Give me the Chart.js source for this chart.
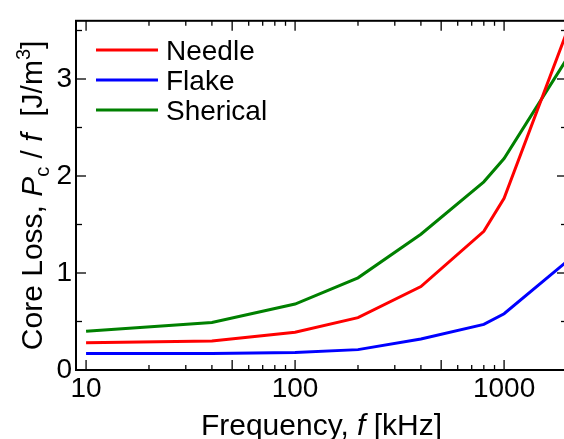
<!DOCTYPE html>
<html>
<head>
<meta charset="utf-8">
<script src="https://cdn.jsdelivr.net/npm/chart.js@4/dist/chart.umd.min.js"></script>
<style>
  html, body { margin: 0; padding: 0; overflow: hidden; background: #fff; }
  #wrap { width: 570px; height: 439px; }
  canvas { display: block; }
</style>
</head>
<body>
<div id="wrap"><canvas id="chart" width="570" height="439"></canvas></div>
<script>
// ── Data ──────────────────────────────────────────────────────────────────────
const FREQ = [10, 40, 100, 200, 400, 800, 1000, 2000]
const NEEDLE = [0.28, 0.30, 0.39, 0.54, 0.86, 1.43, 1.77, 3.49]
const FLAKE = [0.17, 0.17, 0.18, 0.21, 0.32, 0.47, 0.58, 1.12]
const SHERICAL = [0.40, 0.49, 0.68, 0.95, 1.40, 1.94, 2.18, 3.21]

const X_LABELS = [10, 100, 1000]
const X_LONG = [10, 50, 100, 500, 1000]
const X_MINOR = [10, 20, 30, 40, 50, 60, 70, 80, 90, 100, 200, 300, 400, 500, 600, 700, 800, 900, 1000, 2000]
const Y_LABELS = [0, 1, 2, 3]
const Y_MINOR = [0.5, 1.5, 2.5, 3.5]

const SERIES = [
  { label: 'Needle', data: NEEDLE, color: '#ff0000' },
  { label: 'Flake', data: FLAKE, color: '#0000ff' },
  { label: 'Sherical', data: SHERICAL, color: '#008000' }
]

const FONT = '"Liberation Sans", Arial, sans-serif'

// ── Plugins ───────────────────────────────────────────────────────────────────
const frameTicks = {
  id: 'frameTicks',
  afterDatasetsDraw(chart) {
    const { ctx, chartArea: a, scales: { x, y } } = chart
    const seg = (x1, y1, x2, y2) => { ctx.beginPath(); ctx.moveTo(x1, y1); ctx.lineTo(x2, y2); ctx.stroke() }
    ctx.save()
    ctx.strokeStyle = '#000'
    ctx.lineWidth = 1.3
    X_MINOR.forEach(v => {
      const px = x.getPixelForValue(v)
      const len = X_LONG.includes(v) ? 10 : 5
      seg(px, a.bottom, px, a.bottom - len)
      seg(px, a.top, px, a.top + len)
    })
    Y_LABELS.concat(Y_MINOR).forEach(v => {
      const py = y.getPixelForValue(v)
      const len = Y_LABELS.includes(v) ? 10 : 6
      seg(a.left, py, a.left + len, py)
      seg(a.right, py, a.right - len, py)
    })
    ctx.lineWidth = 2
    ctx.strokeRect(a.left, a.top, a.width, a.height)
    ctx.restore()
  }
}

// draws text pieces in sequence: [text, style, sizeScale, baselineShift]
function drawRich(ctx, parts, size, startX, baseY) {
  let cx = startX
  parts.forEach(([t, style, k = 1, dy = 0]) => {
    ctx.font = `${style} ${Math.round(size * k)}px ${FONT}`
    ctx.fillText(t, cx, baseY + dy)
    cx += ctx.measureText(t).width
  })
}

function richWidth(ctx, parts, size) {
  return parts.reduce((w, [t, style, k = 1]) => {
    ctx.font = `${style} ${Math.round(size * k)}px ${FONT}`
    return w + ctx.measureText(t).width
  }, 0)
}

const X_TITLE = [['Frequency, ', 'normal'], ['f', 'italic'], [' [kHz]', 'normal']]
const Y_TITLE = [
  ['Core Loss, ', 'normal'], ['P', 'italic'], ['c', 'normal', 0.68, 7],
  [' / ', 'normal'], ['f', 'italic'], ['  [J/m', 'normal'], ['3', 'normal', 0.68, -12], [']', 'normal']
]

const titlesLegend = {
  id: 'titlesLegend',
  afterDraw(chart) {
    const { ctx, chartArea: a } = chart
    ctx.save()
    ctx.fillStyle = '#000'
    ctx.textBaseline = 'alphabetic'
    ctx.textAlign = 'left'

    const xw = richWidth(ctx, X_TITLE, 30)
    drawRich(ctx, X_TITLE, 30, (a.left + a.right) / 2 - xw / 2, 435)

    const yw = richWidth(ctx, Y_TITLE, 30)
    ctx.save()
    ctx.translate(42, (a.top + a.bottom) / 2)
    ctx.rotate(-Math.PI / 2)
    drawRich(ctx, Y_TITLE, 30, -yw / 2, 0)
    ctx.restore()

    chart.data.datasets.forEach((ds, i) => {
      const ly = 50 + i * 30
      ctx.strokeStyle = ds.borderColor
      ctx.lineWidth = 3
      ctx.beginPath()
      ctx.moveTo(96, ly)
      ctx.lineTo(158, ly)
      ctx.stroke()
      ctx.font = `28px ${FONT}`
      ctx.fillStyle = '#000'
      ctx.fillText(ds.label, 166, ly + 10)
    })
    ctx.restore()
  }
}

// ── Chart ─────────────────────────────────────────────────────────────────────
function buildConfig() {
  return {
    type: 'line',
    data: {
      datasets: SERIES.map(s => ({
        label: s.label,
        data: FREQ.map((f, i) => ({ x: f, y: s.data[i] })),
        borderColor: s.color,
        backgroundColor: s.color,
        borderWidth: 3,
        pointRadius: 0,
        tension: 0,
        fill: false
      }))
    },
    options: {
      responsive: false,
      animation: false,
      devicePixelRatio: 1,
      layout: { padding: { left: 0, top: 15, right: 3, bottom: 0 } },
      plugins: { legend: { display: false }, tooltip: { enabled: false } },
      scales: {
        x: {
          type: 'logarithmic',
          min: 8.95,
          max: 2000,
          afterBuildTicks: s => { s.ticks = X_LABELS.map(v => ({ value: v })) },
          afterFit: s => { s.height = 69 },
          grid: { display: false, drawTicks: false },
          border: { display: false },
          ticks: {
            autoSkip: false,
            maxRotation: 0,
            padding: 2,
            color: '#000',
            font: { family: FONT, size: 28 },
            callback: v => String(v)
          }
        },
        y: {
          min: 0,
          max: 3.6,
          afterBuildTicks: s => { s.ticks = Y_LABELS.map(v => ({ value: v })) },
          afterFit: s => { s.width = 76 },
          grid: { display: false, drawTicks: false },
          border: { display: false },
          ticks: {
            padding: 4,
            color: '#000',
            font: { family: FONT, size: 28 },
            callback: v => String(v)
          }
        }
      }
    },
    plugins: [frameTicks, titlesLegend]
  }
}

new Chart(document.getElementById('chart').getContext('2d'), buildConfig())
</script>
</body>
</html>
